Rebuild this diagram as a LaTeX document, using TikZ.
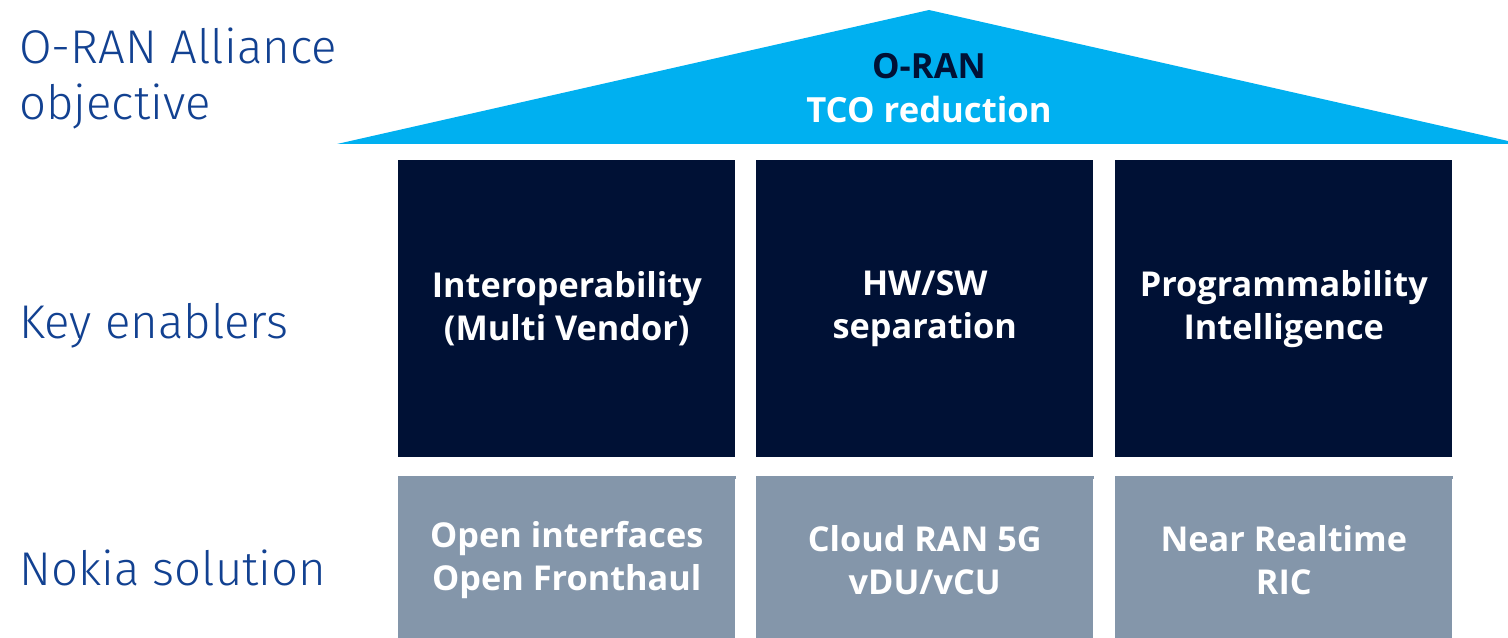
\documentclass[tikz,border=0pt]{standalone}
\usepackage{fontspec}
\setmainfont{Open Sans}
\newfontfamily\lightfont{Fira Sans Light}
\definecolor{roofblue}{HTML}{00B0F0}
\definecolor{navy}{HTML}{001135}
\definecolor{slate}{HTML}{8496AA}
\definecolor{labelblue}{HTML}{124191}
\begin{document}
\begin{tikzpicture}[x=0.75pt,y=-0.75pt,
  lbl/.style={anchor=base west,inner sep=0pt,text=labelblue,font=\lightfont\fontsize{35.5}{42}\selectfont,align=left},
  pillar/.style={fill=navy,draw=none,minimum width=337*0.75pt,minimum height=297*0.75pt,anchor=north west,inner sep=0pt,text=white,align=center,font=\bfseries\fontsize{25.7}{32.5}\selectfont},
  base/.style={fill=slate,draw=none,minimum width=337*0.75pt,minimum height=162*0.75pt,anchor=north west,inner sep=0pt,text=white,align=center,font=\bfseries\fontsize{25.7}{32.5}\selectfont}]
\useasboundingbox (0,0) rectangle (1508,638);
\fill[white] (0,0) rectangle (1508,638);
% roof
\coordinate (rl) at (337,144);
\coordinate (ra) at (929,10);
\coordinate (rr) at (1508,141);
\coordinate (rb) at (1508,144);
\fill[roofblue] (rl) -- (ra) -- (rr) -- (rb) -- cycle;
\node[align=center,inner sep=0pt,font=\bfseries\fontsize{26}{33}\selectfont] (roof) at (929,88)
  {\textcolor{navy}{O-RAN}\\\textcolor{white}{TCO reduction}};
% pillars
\node[pillar] (p1) at (398,160) {Interoperability\\(Multi Vendor)};
\node[pillar] (p2) at (756,160) {HW/SW\\separation};
\node[pillar] (p3) at (1115,160) {Programmability\\Intelligence};
% base
\node[base] (b1) at (398,479) {Open interfaces\\Open Fronthaul};
\node[base] (b2) at (756,479) {Cloud RAN 5G\\vDU/vCU};
\node[base] (b3) at (1115,479) {Near Realtime\\RIC};
\fill[slate] (b1.north west) ++(0,-3) rectangle (b1.north east);
\fill[slate] (b2.north west) ++(0,-3) rectangle (b2.north east);
\fill[slate] (b3.north west) ++(0,-3) rectangle (b3.north east);
% labels
\node[lbl] (l1) at (19,120) {O-RAN Alliance\\objective};
\node[lbl] (l2) at (19,338) {Key enablers};
\node[lbl] (l3) at (19,585) {Nokia solution};
\end{tikzpicture}
\end{document}
